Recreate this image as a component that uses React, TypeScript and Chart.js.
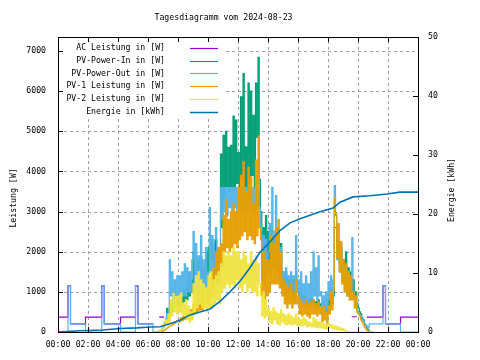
import React, { useEffect, useRef } from "react";
import { Chart, registerables } from "chart.js";

Chart.register(...registerables);

const TITLE = "Tagesdiagramm vom 2024-08-23";
const Y_LABEL = "Leistung [W]";
const Y2_LABEL = "Energie [kWh]";
const SERIES_NAMES = [
  "AC Leistung in [W]",
  "PV-Power-In in [W]",
  "PV-Power-Out in [W]",
  "PV-1 Leistung in [W]",
  "PV-2 Leistung in [W]",
  "Energie in [kWh]",
];
const COLORS = ["#9400d3", "#009e73", "#56b4e9", "#e69f00", "#f0e442", "#0072b2"];

// daytime samples: every 5 minutes from 06:30 to 21:00
const DAY_START = "06:30";
const DAY_STEP_MIN = 5;

const pvInDay = [
  0, 0, 0, 30, 60, 100,
  150, 220, 320, 590, 380, 450,
  700, 520, 850, 620, 900, 680,
  800, 620, 950, 700, 1050, 760,
  1100, 800, 1450, 900, 1300, 1000,
  2000, 1200, 1700, 1100, 1800, 1300,
  1900, 1200, 1600, 1100, 2000, 1300,
  2100, 1500, 2300, 1800, 2200, 1600,
  2300, 1500, 2100, 1600, 4430, 2600,
  4900, 3400, 5000, 3600, 4600, 3500,
  4650, 3600, 5380, 3500, 5280, 3700,
  4470, 3500, 5860, 3800, 6440, 3600,
  4610, 3500, 6200, 3700, 6000, 3900,
  5400, 3600, 6200, 4850, 6840, 3800,
  3000, 1400, 2600, 1300, 2900, 1500,
  2500, 1700, 2600, 1900, 2400, 1800,
  2600, 1800, 2500, 1600, 2200, 1500,
  1400, 1000, 1500, 900, 1300, 1000,
  1400, 900, 1300, 1000, 1500, 1000,
  1000, 800, 1100, 700, 900, 800,
  900, 700, 800, 650, 850, 700,
  800, 650, 750, 600, 800, 650,
  700, 450, 750, 500, 650, 450,
  800, 600, 850, 700, 900, 2600,
  2600, 2000, 2300, 1700, 2100, 1500,
  1800, 1300, 2000, 1200, 1600, 1100,
  1500, 1000, 1300, 900, 1000, 700,
  600, 500, 450, 350, 300, 200,
  150, 100, 50, 0, 0, 0,
  0,
];

const pvOutDay = [
  0, 0, 0, 20, 50, 80,
  120, 200, 300, 450, 300, 1800,
  900, 1500, 700, 1300, 800, 1400,
  800, 1400, 850, 1500, 900, 1700,
  900, 1600, 1000, 1500, 1000, 1800,
  2500, 900, 2200, 800, 1900, 900,
  2400, 900, 1800, 800, 2100, 1000,
  1500, 3100, 1300, 2400, 1200, 2300,
  2600, 1200, 2100, 1200, 3600, 2800,
  3600, 3000, 3600, 2900, 3600, 3100,
  3600, 3000, 3600, 3100, 3600, 3000,
  3600, 3100, 3600, 3000, 3600, 3000,
  3600, 3000, 3600, 3100, 3600, 3000,
  3600, 3000, 3600, 3100, 3600, 3100,
  2600, 1300, 2400, 1200, 2300, 1400,
  2000, 2700, 1400, 3600, 1600, 2500,
  3400, 1500, 2600, 1300, 2100, 1100,
  1500, 900, 1600, 800, 1400, 900,
  1500, 800, 1400, 800, 2400, 1000,
  1300, 700, 1500, 700, 1200, 700,
  1400, 700, 1200, 700, 1500, 800,
  2000, 900, 1600, 800, 1900, 900,
  1000, 500, 900, 500, 1000, 550,
  1250, 800, 1400, 700, 1300, 3650,
  2900, 1800, 2200, 1500, 2200, 1300,
  1800, 1000, 1600, 900, 1500, 900,
  1400, 2350, 1000, 800, 700, 550,
  480, 430, 380, 300, 250, 200,
  170, 140, 120, 200, 200, 200,
  200,
];

const pv1Day = [
  0, 0, 0, 0, 10, 20,
  30, 50, 80, 100, 120, 150,
  150, 180, 200, 220, 250, 280,
  300, 250, 350, 280, 400, 320,
  450, 350, 500, 380, 550, 420,
  700, 450, 800, 500, 900, 550,
  900, 550, 1100, 650, 1000, 700,
  1100, 700, 1500, 900, 1600, 1000,
  2000, 1300, 2100, 1400, 2200, 1600,
  2900, 2000, 3300, 2100, 2800, 2000,
  3000, 2100, 3200, 2200, 3000, 2100,
  3600, 2300, 3900, 2400, 4240, 2500,
  3500, 2300, 4100, 2400, 3860, 2300,
  3200, 2200, 4280, 2400, 4880, 2600,
  2300, 900, 2000, 800, 1800, 900,
  1800, 1000, 2400, 1200, 2200, 1200,
  2600, 1200, 2800, 1100, 2000, 900,
  1300, 700, 1200, 600, 1100, 700,
  1200, 600, 1000, 700, 1300, 700,
  900, 450, 800, 400, 700, 450,
  800, 400, 700, 350, 750, 450,
  800, 450, 700, 400, 750, 450,
  600, 250, 650, 300, 500, 200,
  650, 450, 1000, 550, 1050, 3350,
  2950, 1850, 2700, 1500, 2250, 1200,
  1800, 1000, 1700, 900, 1500, 800,
  1400, 800, 1000, 600, 900, 500,
  450, 400, 300, 250, 180, 120,
  80, 40, 10, 0, 0, 0,
  0,
];

const pv2Day = [
  0, 0, 0, 20, 60, 100,
  200, 150, 300, 200, 450, 250,
  800, 400, 960, 500, 880, 450,
  900, 500, 970, 450, 720, 400,
  800, 300, 650, 250, 500, 300,
  1200, 500, 1400, 600, 1500, 700,
  1300, 600, 1200, 600, 1100, 500,
  1400, 600, 1500, 600, 1300, 700,
  1400, 800, 1500, 700, 1700, 1000,
  2000, 1100, 1900, 1200, 2000, 1100,
  1900, 1200, 2100, 1100, 2000, 1300,
  2000, 1100, 1800, 1000, 2000, 1200,
  1900, 1000, 1700, 1100, 2000, 1000,
  1800, 1000, 1900, 900, 1700, 1200,
  900, 400, 1000, 350, 800, 400,
  600, 250, 500, 200, 600, 300,
  500, 200, 450, 180, 550, 250,
  450, 200, 400, 180, 450, 200,
  400, 180, 350, 200, 450, 180,
  350, 180, 300, 150, 350, 180,
  300, 130, 250, 150, 220, 130,
  350, 130, 300, 110, 250, 110,
  250, 100, 200, 90, 180, 70,
  220, 120, 180, 90, 160, 80,
  150, 60, 120, 50, 100, 40,
  80, 30, 30, 10, 0, 0,
  0, 0, 0, 0, 0, 0,
  0, 0, 0, 0, 0, 0,
  0, 0, 0, 0, 0, 0,
  0,
];

// night / sparse parts
const acTimes = ["00:00", "00:40", "00:50", "01:50", "02:55", "03:05", "04:10", "05:10", "05:20", "06:20", "06:21",
  "06:45", "07:05", "07:06", "19:35", "19:55", "19:56", "20:35", "21:40", "21:50", "22:50", "24:00"];
const acValues = [370, 1150, 200, 370, 1150, 200, 370, 1150, 200, 200, null,
  370, 370, null, 380, 380, null, 370, 1150, 200, 370, 370];

const pvOutMorningTimes = ["00:00", "00:40", "00:50", "01:50", "02:55", "03:05", "04:10", "05:10", "05:20", "06:20"];
const pvOutMorningValues = [0, 1150, 200, 0, 1150, 200, 0, 1150, 200, 0];
const pvOutEveningTimes = ["21:40", "21:50", "22:50", "24:00"];
const pvOutEveningValues = [1150, 200, 0, 0];

const energyTimes = ["00:00", "01:28", "03:00", "04:08", "05:16", "06:08", "06:48", "07:28", "08:08", "08:48",
  "09:28", "10:08", "10:48", "11:28", "12:08", "12:48", "13:28", "14:08", "14:48", "15:28", "16:08", "16:48",
  "17:28", "18:20", "18:48", "19:40", "20:48", "21:56", "22:48", "24:00"];
const energyValues = [0, 0.2, 0.35, 0.6, 0.7, 0.85, 0.9, 1.4, 2.0, 2.9,
  3.4, 3.9, 5.2, 6.8, 8.6, 10.9, 13.5, 15.3, 17.2, 18.5, 19.2, 19.8,
  20.4, 21.0, 22.0, 22.9, 23.1, 23.4, 23.7, 23.7];

const X_TICKS = [0, 120, 240, 360, 480, 600, 720, 840, 960, 1080, 1200, 1320, 1440];
const Y_TICKS = [0, 1000, 2000, 3000, 4000, 5000, 6000, 7000];
const Y2_TICKS = [0, 10, 20, 30, 40, 50];
const X_MAX = 1440;
const Y_MAX = 7350;
const Y2_MAX = 50;

const FAMILY = '"DejaVu Sans Mono", "Liberation Mono", monospace';
const FSIZE = 8.2;
const FONT = `${FSIZE}px ${FAMILY}`;

const toMin = (t: string) => {
  const [h, m] = t.split(":").map(Number);
  return h * 60 + m;
};
const dayPoints = (values: number[]) => {
  const s = toMin(DAY_START);
  return values.map((v, i) => ({ x: s + i * DAY_STEP_MIN, y: v }));
};
const sparsePoints = (times: string[], values: (number | null)[]) =>
  times.map((t, i) => ({ x: toMin(t), y: values[i] }));
const fmtTime = (v: number) => {
  const m = ((v % 1440) + 1440) % 1440;
  const h = Math.floor(m / 60);
  const mm = m % 60;
  return `${String(h).padStart(2, "0")}:${String(mm).padStart(2, "0")}`;
};

const framePlugin = {
  id: "gnuframe",
  beforeDatasetsDraw(chart: any) {
    const { ctx, chartArea: a, scales } = chart;
    const sx = scales.x;
    const sy = scales.y;
    ctx.save();
    ctx.strokeStyle = "#a0a0a0";
    ctx.lineWidth = 1;
    ctx.setLineDash([3, 3]);
    ctx.beginPath();
    X_TICKS.slice(1, -1).forEach((m) => {
      const px = Math.round(sx.getPixelForValue(m)) + 0.5;
      ctx.moveTo(px, a.bottom);
      ctx.lineTo(px, a.top);
    });
    Y_TICKS.slice(1).forEach((w) => {
      const py = Math.round(sy.getPixelForValue(w)) + 0.5;
      ctx.moveTo(a.left, py);
      ctx.lineTo(a.right, py);
    });
    ctx.stroke();
    ctx.setLineDash([]);
    // key (opaque)
    ctx.fillStyle = "#ffffff";
    ctx.fillRect(a.left + 1, a.top + 1, 164, 81);
    ctx.font = FONT;
    ctx.textAlign = "right";
    ctx.textBaseline = "middle";
    SERIES_NAMES.forEach((name, i) => {
      const yy = a.top + 11 + i * 12.7;
      ctx.fillStyle = "#000";
      ctx.fillText(name, a.left + 107, yy);
      ctx.strokeStyle = COLORS[i];
      ctx.lineWidth = i === 5 ? 1.5 : 1.2;
      ctx.beginPath();
      ctx.moveTo(a.left + 132, Math.round(yy) + 0.5);
      ctx.lineTo(a.left + 160, Math.round(yy) + 0.5);
      ctx.stroke();
    });
    ctx.restore();
  },
  afterDatasetsDraw(chart: any) {
    const { ctx, chartArea: a, scales } = chart;
    const sx = scales.x;
    const sy = scales.y;
    const sy2 = scales.y2;
    ctx.save();
    ctx.strokeStyle = "#000";
    ctx.lineWidth = 1;
    ctx.strokeRect(a.left + 0.5, a.top + 0.5, a.right - a.left, a.bottom - a.top);
    ctx.beginPath();
    const TL = 5;
    X_TICKS.slice(1, -1).forEach((m) => {
      const px = Math.round(sx.getPixelForValue(m)) + 0.5;
      ctx.moveTo(px, a.bottom);
      ctx.lineTo(px, a.bottom - TL);
      ctx.moveTo(px, a.top);
      ctx.lineTo(px, a.top + TL);
    });
    Y_TICKS.slice(1).forEach((w) => {
      const py = Math.round(sy.getPixelForValue(w)) + 0.5;
      ctx.moveTo(a.left, py);
      ctx.lineTo(a.left + TL, py);
    });
    Y2_TICKS.slice(1, -1).forEach((e) => {
      const py = Math.round(sy2.getPixelForValue(e)) + 0.5;
      ctx.moveTo(a.right, py);
      ctx.lineTo(a.right - TL, py);
    });
    ctx.stroke();
    ctx.restore();
  },
  afterDraw(chart: any) {
    const { ctx } = chart;
    ctx.save();
    ctx.fillStyle = "#000";
    ctx.font = FONT;
    ctx.textAlign = "center";
    ctx.textBaseline = "middle";
    ctx.fillText(TITLE, 223.5, 18);
    ctx.save();
    ctx.translate(14, 198);
    ctx.rotate(-Math.PI / 2);
    ctx.fillText(Y_LABEL, 0, 0);
    ctx.restore();
    ctx.save();
    ctx.translate(452, 190);
    ctx.rotate(-Math.PI / 2);
    ctx.fillText(Y2_LABEL, 0, 0);
    ctx.restore();
    ctx.restore();
  },
};

export default function App() {
  const ref = useRef<HTMLCanvasElement | null>(null);
  useEffect(() => {
    if (!ref.current) return;
    const pvOutData = [
      ...sparsePoints(pvOutMorningTimes, pvOutMorningValues),
      ...dayPoints(pvOutDay),
      ...sparsePoints(pvOutEveningTimes, pvOutEveningValues),
    ];
    const mk = (i: number, data: any[], order: number, extra: any = {}) => ({
      label: SERIES_NAMES[i],
      data,
      borderColor: COLORS[i],
      backgroundColor: COLORS[i],
      borderWidth: 1.2,
      stepped: true,
      pointRadius: 0,
      fill: false,
      spanGaps: false,
      yAxisID: "y",
      order,
      ...extra,
    });
    const tickFont = { family: FAMILY, size: FSIZE };
    const setTicks = (vals: number[]) => (s: any) => {
      s.ticks = vals.map((v) => ({ value: v }));
    };
    const chart = new Chart(ref.current, {
      type: "line",
      data: {
        datasets: [
          mk(0, sparsePoints(acTimes, acValues), 6),
          mk(1, dayPoints(pvInDay), 5),
          mk(2, pvOutData, 4),
          mk(3, dayPoints(pv1Day), 3),
          mk(4, dayPoints(pv2Day), 2),
          mk(5, sparsePoints(energyTimes, energyValues), 1, {
            yAxisID: "y2",
            stepped: false,
            borderWidth: 1.6,
            tension: 0,
          }),
        ],
      },
      options: {
        responsive: false,
        devicePixelRatio: 1,
        animation: false,
        events: [],
        layout: { padding: { top: 37, left: 0, right: 0, bottom: 0 } },
        plugins: {
          legend: { display: false },
          title: { display: false },
          tooltip: { enabled: false },
        },
        elements: { point: { radius: 0 } },
        scales: {
          x: {
            type: "linear",
            min: 0,
            max: X_MAX,
            grid: { display: false },
            border: { display: false },
            afterBuildTicks: setTicks(X_TICKS),
            ticks: {
              autoSkip: false,
              maxRotation: 0,
              color: "#000",
              font: tickFont,
              padding: 0,
              callback: (v: any) => fmtTime(Number(v)),
            },
            afterFit: (s: any) => {
              s.height = 28;
            },
          },
          y: {
            type: "linear",
            position: "left",
            min: 0,
            max: Y_MAX,
            grid: { display: false },
            border: { display: false },
            afterBuildTicks: setTicks(Y_TICKS),
            ticks: {
              autoSkip: false,
              color: "#000",
              font: tickFont,
              padding: 4,
              callback: (v: any) => String(v),
            },
            afterFit: (s: any) => {
              s.width = 58;
            },
          },
          y2: {
            type: "linear",
            position: "right",
            min: 0,
            max: Y2_MAX,
            grid: { display: false },
            border: { display: false },
            afterBuildTicks: setTicks(Y2_TICKS),
            ticks: {
              autoSkip: false,
              color: "#000",
              font: tickFont,
              padding: 2,
              callback: (v: any) => String(v),
            },
            afterFit: (s: any) => {
              s.width = 62;
            },
          },
        },
      },
      plugins: [framePlugin],
    } as any);
    return () => chart.destroy();
  }, []);
  return (
    <div style={{ position: "fixed", left: 0, top: 0, width: 480, height: 360, background: "#fff" }}>
      <canvas ref={ref} width={480} height={360} style={{ display: "block", width: 480, height: 360 }} />
    </div>
  );
}
